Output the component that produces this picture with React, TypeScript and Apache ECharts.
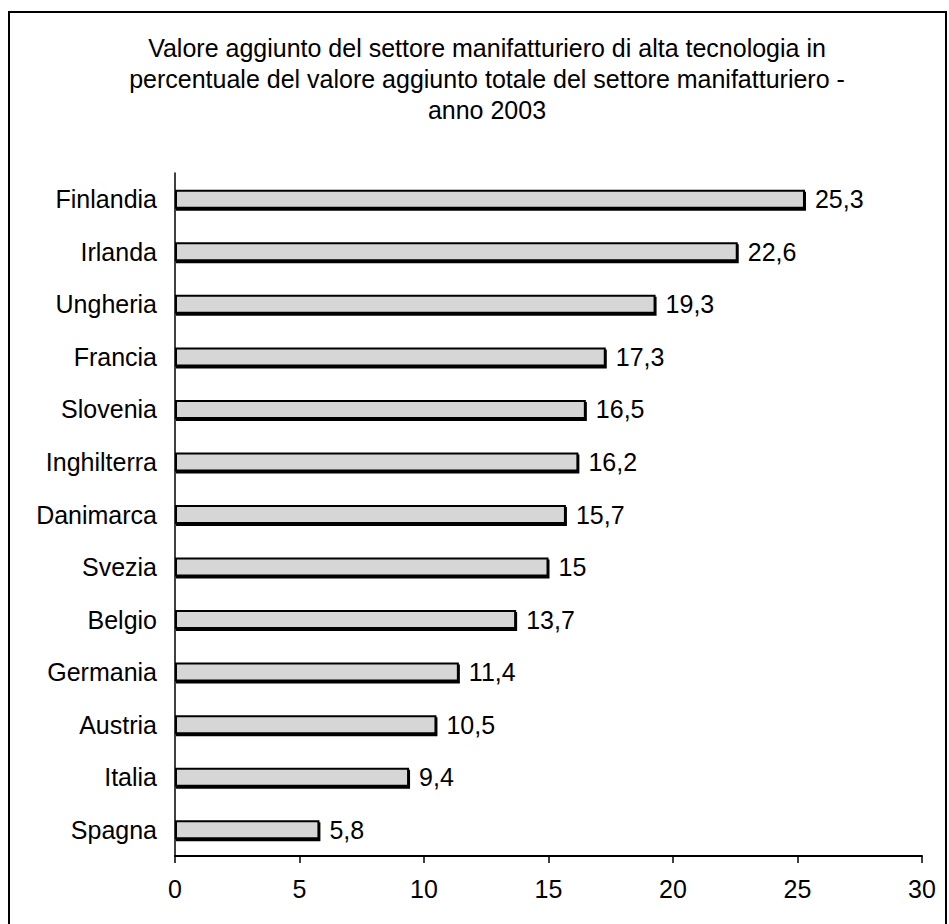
import React, { useEffect, useRef } from "react";
import * as echarts from "echarts";

const titleLines = [
  "Valore aggiunto del settore manifatturiero di alta tecnologia in",
  "percentuale del valore aggiunto totale del settore manifatturiero -",
  "anno 2003",
];
const countries = [
  "Finlandia", "Irlanda", "Ungheria", "Francia", "Slovenia", "Inghilterra",
  "Danimarca", "Svezia", "Belgio", "Germania", "Austria", "Italia", "Spagna",
];
const values = [25.3, 22.6, 19.3, 17.3, 16.5, 16.2, 15.7, 15, 13.7, 11.4, 10.5, 9.4, 5.8];
const xTicks = { min: 0, max: 30, interval: 5 };

const FONT = "'Liberation Sans', Arial, sans-serif";

export default function App() {
  const ref = useRef<HTMLDivElement>(null);
  useEffect(() => {
    const chart = echarts.init(ref.current!, null, { renderer: "svg" });
    chart.setOption({
      animation: false,
      backgroundColor: "#ffffff",
      textStyle: { fontFamily: FONT, color: "#000" },
      graphic: [
        {
          type: "rect",
          shape: { x: 9, y: 12, width: 937, height: 960 },
          style: { fill: "none", stroke: "#000", lineWidth: 2 },
          silent: true,
        },
        {
          type: "text",
          x: 487,
          y: 32,
          style: {
            text: titleLines.join("\n"),
            fontFamily: FONT,
            fontSize: 25,
            lineHeight: 31,
            fill: "#000",
            align: "center",
            verticalAlign: "top",
          },
        },
      ],
      grid: { left: 175, right: 27, top: 173, bottom: 68, containLabel: false },
      xAxis: {
        type: "value",
        min: xTicks.min,
        max: xTicks.max,
        interval: xTicks.interval,
        axisLine: { show: true, lineStyle: { color: "#000", width: 2 } },
        axisTick: { show: true, length: 7, lineStyle: { color: "#000", width: 1.5 } },
        axisLabel: { fontSize: 25, color: "#000", margin: 20, fontFamily: FONT },
        splitLine: { show: false },
      },
      yAxis: {
        type: "category",
        data: countries,
        inverse: true,
        axisLine: { show: true, lineStyle: { color: "#000", width: 1.5 } },
        axisTick: { show: false },
        axisLabel: { fontSize: 25, color: "#000", margin: 18, fontFamily: FONT },
      },
      series: [
        {
          type: "bar",
          data: values,
          barWidth: 19,
          itemStyle: {
            color: "#d6d6d6",
            borderColor: "#000",
            borderWidth: 2,
            shadowColor: "#000",
            shadowOffsetX: 1,
            shadowOffsetY: 2,
            shadowBlur: 0,
          },
          label: {
            show: true,
            position: "right",
            distance: 10,
            fontSize: 25,
            color: "#000",
            fontFamily: FONT,
            formatter: (p: any) => String(p.value).replace(".", ","),
          },
        },
      ],
    });
    return () => chart.dispose();
  }, []);
  return <div ref={ref} style={{ width: 949, height: 924, position: "absolute", left: 0, top: 0 }} />;
}
